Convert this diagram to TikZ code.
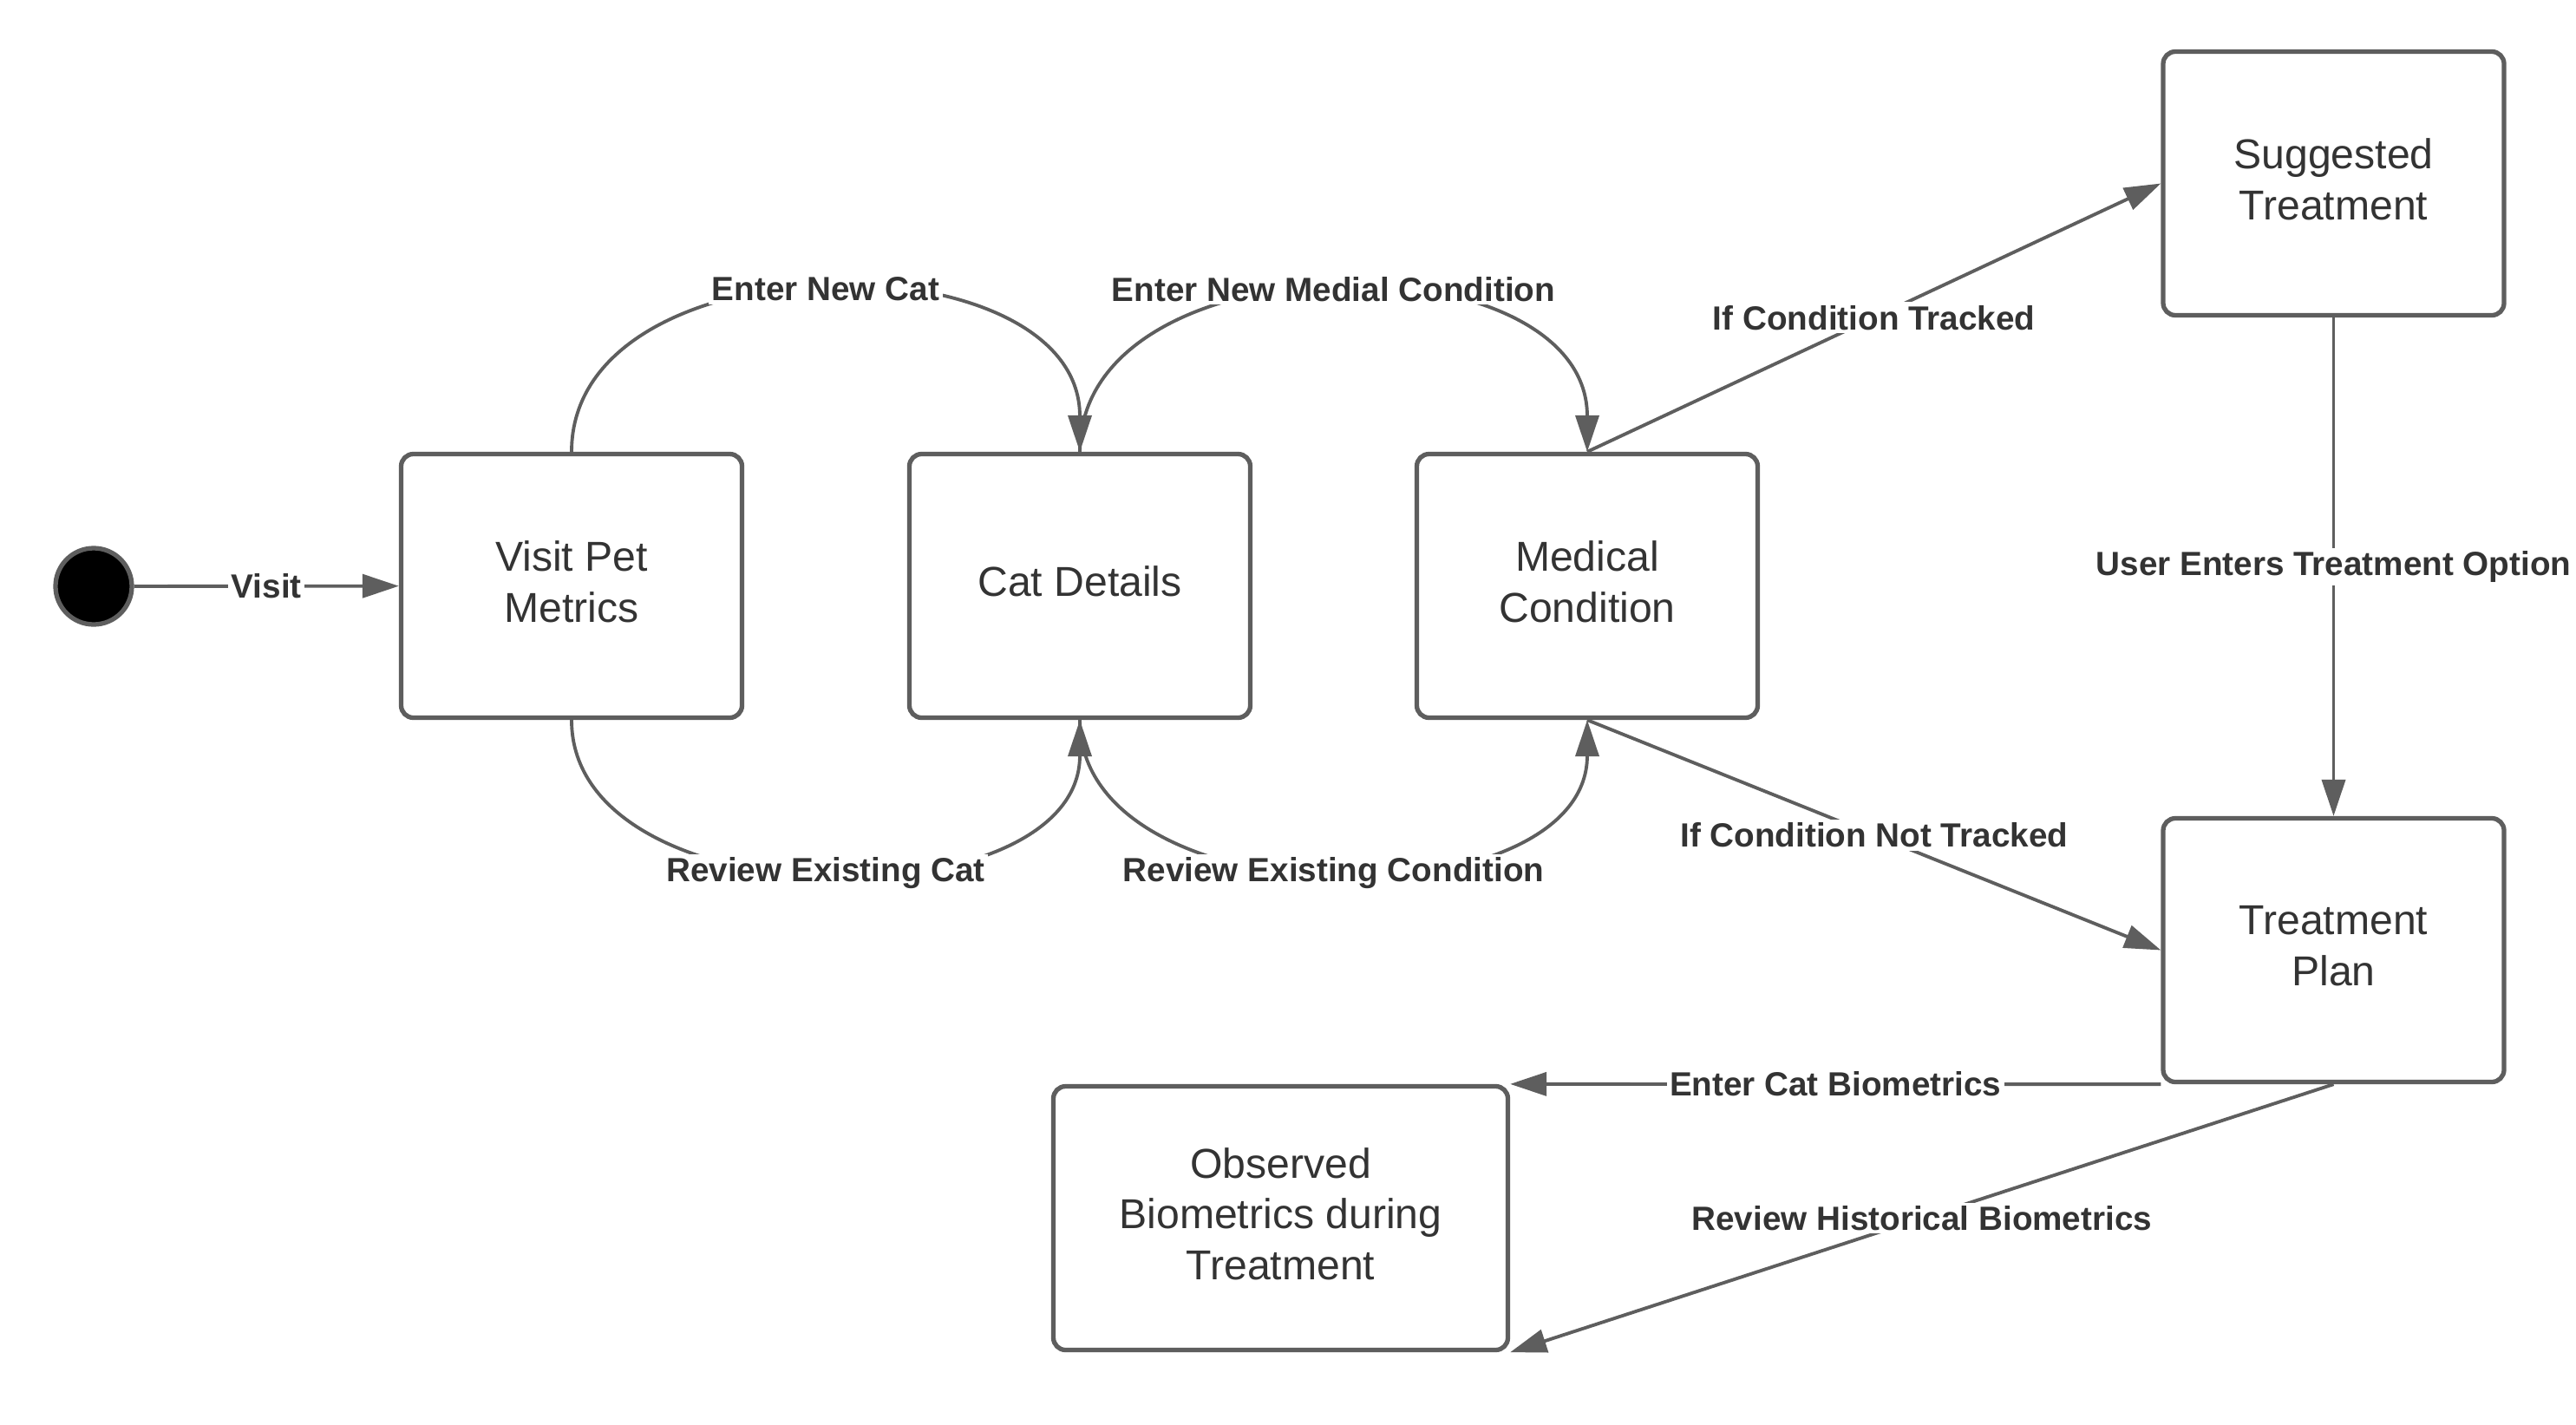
\documentclass[tikz,border=0pt]{standalone}
\usepackage{fontspec}
\setmainfont{Liberation Sans}
\usetikzlibrary{arrows.meta, positioning}
\definecolor{linegray}{RGB}{94, 94, 94}
\definecolor{textdark}{RGB}{51, 51, 51}

\begin{document}
\begin{tikzpicture}[
    state/.style={rectangle, draw=linegray, line width=1.5pt, rounded corners=4pt, minimum width=3.93cm, minimum height=3.04cm, align=center, text depth=0.3em, font=\fontsize{13.7}{16.7}\selectfont, text=textdark},
    initial/.style={circle, draw=linegray, fill=black, line width=1.5pt, minimum size=0.88cm, inner sep=0pt},
    trans/.style={draw=linegray, line width=1.1pt, -{Triangle[length=0.42cm, width=0.27cm]}},
    lbl/.style={fill=white, inner sep=1pt, font=\fontsize{11}{13}\selectfont\bfseries, text=textdark}
]
    \useasboundingbox (0,0) rectangle (29.70,-16.42);

    % States
    \node[initial] (start) at (1.08,-6.76) {};
    \node[state] (vpm) at (6.59,-6.755) {Visit Pet\\Metrics};
    \node[state] (cd) at (12.45,-6.755) {Cat Details};
    \node[state] (mc) at (18.30,-6.755) {Medical\\Condition};
    \node[state] (st) at (26.905,-2.115) {Suggested\\Treatment};
    \node[state] (tp) at (26.905,-10.955) {Treatment\\Plan};
    \node[state, minimum width=5.24cm] (obs) at (14.765,-14.045) {Observed\\Biometrics during\\Treatment};

    % Transitions
    \draw[trans] (start) -- node[lbl] {Visit} (vpm);
    \draw[trans] (vpm.north) .. controls +(0,2.5) and +(0,2.5) .. node[lbl] {Enter New Cat} (cd.north);
    \draw[trans] (cd.north) .. controls +(0,2.5) and +(0,2.5) .. node[lbl] {Enter New Medial Condition} (mc.north);
    \draw[trans] (vpm.south) .. controls +(0,-2.35) and +(0,-2.35) .. node[lbl] {Review Existing Cat} (cd.south);
    \draw[trans] (cd.south) .. controls +(0,-2.35) and +(0,-2.35) .. node[lbl] {Review Existing Condition} (mc.south);
    \draw[trans] (mc.north) -- node[lbl] {If Condition Tracked} (st.west);
    \draw[trans] (st.south) -- node[lbl] {User Enters Treatment Option} (tp.north);
    \draw[trans] (mc.south) -- node[lbl] {If Condition Not Tracked} (tp.west);
    \draw[trans] (tp.south west) -- node[lbl] {Enter Cat Biometrics} (obs.north east);
    \draw[trans] (tp.south) -- node[lbl] {Review Historical Biometrics} (obs.south east);
\end{tikzpicture}
\end{document}
